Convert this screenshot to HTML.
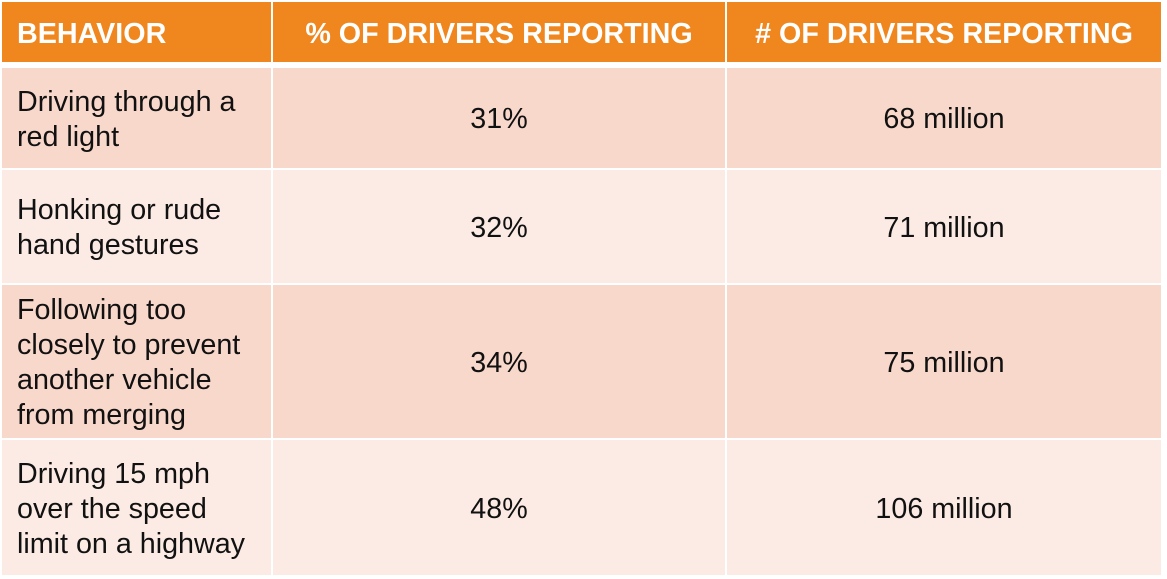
<!DOCTYPE html>
<html><head><style>
body{margin:0;width:1167px;height:579px;background:#fff;position:relative;font-family:"Liberation Sans",Arial,sans-serif;overflow:hidden}
.c{position:absolute;box-sizing:border-box;display:flex;align-items:center;font-size:28.7px;line-height:35px;color:#111;padding-top:3px}
.h{background:#f0861e;color:#fff;font-weight:bold;font-size:28.7px;padding-top:4px}
.a{background:#f9d8cc}.b{background:#fcebe4}
.l{padding-left:15px}.m{justify-content:center;text-align:center}
</style></head><body>
<div class="c h l" style="left:2px;top:2px;width:269px;height:60px">BEHAVIOR</div>
<div class="c h m" style="left:273px;top:2px;width:452px;height:60px">% OF DRIVERS REPORTING</div>
<div class="c h m" style="left:727px;top:2px;width:434px;height:60px"># OF DRIVERS REPORTING</div>

<div class="c a l" style="left:2px;top:68px;width:269px;height:100px">Driving through a<br>red light</div>
<div class="c a m" style="left:273px;top:68px;width:452px;height:100px">31%</div>
<div class="c a m" style="left:727px;top:68px;width:434px;height:100px">68 million</div>

<div class="c b l" style="left:2px;top:170px;width:269px;height:113px">Honking or rude<br>hand gestures</div>
<div class="c b m" style="left:273px;top:170px;width:452px;height:113px">32%</div>
<div class="c b m" style="left:727px;top:170px;width:434px;height:113px">71 million</div>

<div class="c a l" style="left:2px;top:285px;width:269px;height:153px">Following too<br>closely to prevent<br>another vehicle<br>from merging</div>
<div class="c a m" style="left:273px;top:285px;width:452px;height:153px">34%</div>
<div class="c a m" style="left:727px;top:285px;width:434px;height:153px">75 million</div>

<div class="c b l" style="left:2px;top:440px;width:269px;height:135px">Driving 15 mph<br>over the speed<br>limit on a highway</div>
<div class="c b m" style="left:273px;top:440px;width:452px;height:135px">48%</div>
<div class="c b m" style="left:727px;top:440px;width:434px;height:135px">106 million</div>
</body></html>
